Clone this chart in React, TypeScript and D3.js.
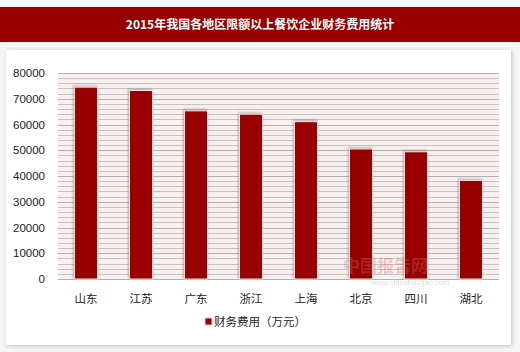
import { useRef, useEffect } from 'react';
import * as d3 from 'd3';

const W = 520;
const H = 352;

const TITLE = '2015年我国各地区限额以上餐饮企业财务费用统计';
const CATEGORIES = ['山东', '江苏', '广东', '浙江', '上海', '北京', '四川', '湖北'];
const VALUES = [74500, 73200, 65300, 64000, 61100, 50500, 49400, 38300];
const Y_TICKS = [0, 10000, 20000, 30000, 40000, 50000, 60000, 70000, 80000];
const SERIES_NAME = '财务费用（万元）';

const BAR_COLOR = '#990000';
const FONT = '"Noto Sans CJK SC", "Liberation Sans", Arial, sans-serif';

export default function App() {
  const svgRef = useRef<SVGSVGElement>(null);

  useEffect(() => {
    const svg = d3.select(svgRef.current);
    svg.selectAll('*').remove();

    const margin = { top: 73, right: 21, bottom: 73, left: 58 };
    const innerW = W - margin.left - margin.right;
    const innerH = H - margin.top - margin.bottom;

    const defs = svg.append('defs');
    const f = defs.append('filter').attr('id', 'cardShadow').attr('x', '-5%').attr('y', '-5%').attr('width', '110%').attr('height', '110%');
    f.append('feGaussianBlur').attr('in', 'SourceAlpha').attr('stdDeviation', 2);
    f.append('feOffset').attr('dx', 1).attr('dy', 1).attr('result', 'b');
    f.append('feFlood').attr('flood-color', '#999').attr('flood-opacity', 0.6);
    f.append('feComposite').attr('in2', 'b').attr('operator', 'in');
    const m = f.append('feMerge');
    m.append('feMergeNode');
    m.append('feMergeNode').attr('in', 'SourceGraphic');

    const bf = defs.append('filter').attr('id', 'barShadow').attr('x', '-30%').attr('y', '-5%').attr('width', '160%').attr('height', '110%');
    bf.append('feGaussianBlur').attr('in', 'SourceAlpha').attr('stdDeviation', 1.2);
    bf.append('feOffset').attr('dx', -1).attr('dy', -1).attr('result', 'b');
    bf.append('feFlood').attr('flood-color', '#666').attr('flood-opacity', 0.5);
    bf.append('feComposite').attr('in2', 'b').attr('operator', 'in');
    const bm = bf.append('feMerge');
    bm.append('feMergeNode');
    bm.append('feMergeNode').attr('in', 'SourceGraphic');

    // page background
    svg.append('rect').attr('width', W).attr('height', H).attr('fill', '#f6f6f6');

    // title band
    svg.append('rect').attr('x', 0).attr('y', 7).attr('width', W).attr('height', 35).attr('fill', '#990000');
    svg.append('text')
      .attr('x', W / 2).attr('y', 29)
      .attr('text-anchor', 'middle')
      .attr('font-family', FONT)
      .attr('font-weight', 'bold')
      .attr('font-size', 12)
      .attr('fill', '#fff')
      .text(TITLE);

    // card
    svg.append('rect')
      .attr('x', 6).attr('y', 50).attr('width', 505).attr('height', 295)
      .attr('fill', '#fff')
      .attr('filter', 'url(#cardShadow)');

    const g = svg.append('g').attr('transform', `translate(${margin.left},${margin.top})`);

    const x = d3.scaleBand().domain(CATEGORIES).range([0, innerW]).paddingInner(0.58).paddingOuter(0.3);
    const y = d3.scaleLinear().domain([0, 80000]).range([innerH, 0]);

    // plot background
    g.append('rect').attr('width', innerW).attr('height', innerH).attr('fill', '#f8efef');

    // dense grid lines
    g.append('g')
      .selectAll('line')
      .data(d3.range(0, 80001, 2000))
      .join('line')
      .attr('x1', 0).attr('x2', innerW)
      .attr('y1', d => Math.round(y(d)) + 0.5)
      .attr('y2', d => Math.round(y(d)) + 0.5)
      .attr('stroke', d => (d % 10000 === 0 ? '#b5b0b0' : '#c6c0c0'))
      .attr('stroke-width', 1);

    // bars
    g.append('g')
      .selectAll('rect')
      .data(VALUES)
      .join('rect')
      .attr('x', (d, i) => x(CATEGORIES[i]) as number)
      .attr('y', d => y(d))
      .attr('width', x.bandwidth())
      .attr('height', d => innerH - y(d))
      .attr('fill', BAR_COLOR)
      .attr('stroke', '#f3e0e0')
      .attr('stroke-width', 1)
      .attr('filter', 'url(#barShadow)');

    // y axis labels
    g.append('g')
      .selectAll('text')
      .data(Y_TICKS)
      .join('text')
      .attr('x', -13)
      .attr('y', d => y(d) + 4)
      .attr('text-anchor', 'end')
      .attr('font-family', '"Liberation Sans", Arial, sans-serif')
      .attr('font-size', 11.5)
      .attr('fill', '#222')
      .text(d => String(d));

    // x axis labels
    g.append('g')
      .selectAll('text')
      .data(CATEGORIES)
      .join('text')
      .attr('x', d => (x(d) as number) + x.bandwidth() / 2)
      .attr('y', innerH + 24)
      .attr('text-anchor', 'middle')
      .attr('font-family', FONT)
      .attr('font-size', 11.5)
      .attr('fill', '#222')
      .text(d => d);

    // watermark
    const wm = svg.append('g').attr('opacity', 0.3);
    wm.append('text')
      .attr('x', 343).attr('y', 272)
      .attr('font-family', FONT).attr('font-weight', 'bold').attr('font-size', 17)
      .attr('fill', '#d87070')
      .text('中国报告网');
    wm.append('text')
      .attr('x', 372).attr('y', 285)
      .attr('font-family', '"Liberation Sans", Arial, sans-serif').attr('font-size', 7.5)
      .attr('fill', '#888')
      .text('www.chinabaogao.com');

    // legend
    svg.append('rect')
      .attr('x', 205).attr('y', 318).attr('width', 7).attr('height', 7)
      .attr('fill', BAR_COLOR).attr('stroke', '#e8c8c8');
    svg.append('text')
      .attr('x', 214).attr('y', 326)
      .attr('font-family', FONT)
      .attr('font-size', 11.5)
      .attr('fill', '#222')
      .text(SERIES_NAME);
  }, []);

  return (
    <div style={{ position: 'fixed', left: 0, top: 0 }}>
      <svg ref={svgRef} width={W} height={H} />
    </div>
  );
}
